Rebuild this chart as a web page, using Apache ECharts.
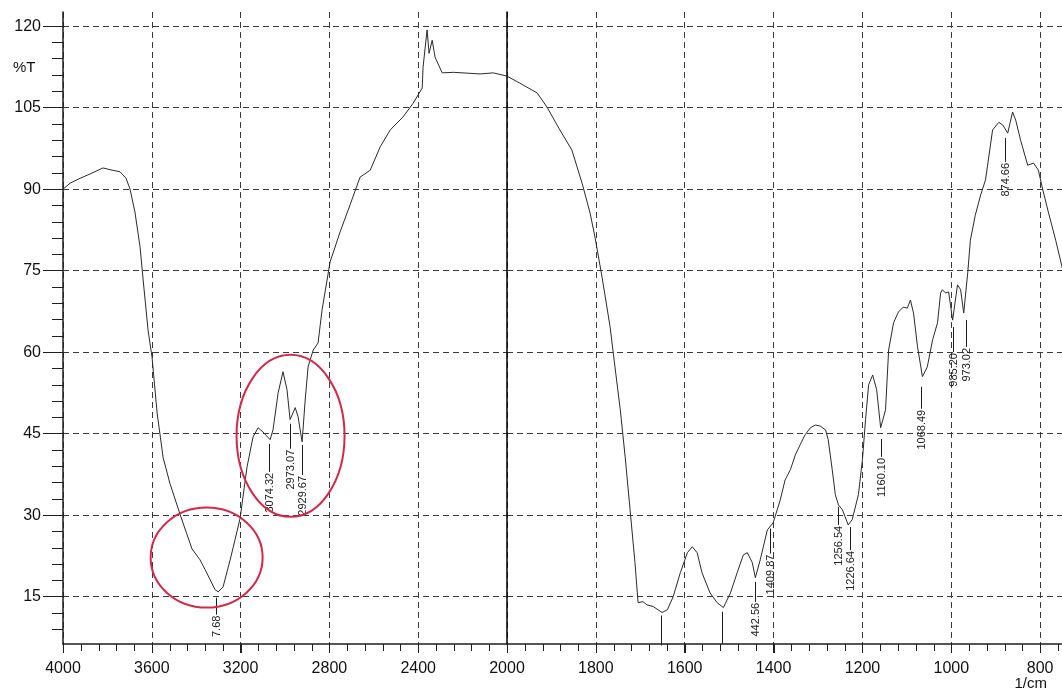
<!DOCTYPE html>
<html>
<head>
<meta charset="utf-8">
<script src="https://cdn.jsdelivr.net/npm/echarts@6/dist/echarts.min.js"></script>
<style>
	html, body { margin: 0; padding: 0; background: #fff; }
	#ir-container { width: 1062px; height: 695px; }
</style>
</head>
<body>
<div id="ir-container"></div>
<script>
// spectrum, 4000-2000 part (wavenumber, %T)
var wnLeft = [4000, 3968, 3923, 3878, 3820, 3779, 3743, 3716, 3698, 3676, 3653, 3639, 3617, 3599, 3576, 3549, 3518, 3473, 3441, 3419,
	3383, 3360, 3315, 3301, 3279, 3247, 3225, 3202, 3171, 3144, 3121, 3099, 3067, 3054, 3031, 3009, 2991, 2977, 2954, 2941,
	2923, 2909, 2896, 2873, 2851, 2833, 2797, 2752, 2707, 2662, 2616, 2571, 2526, 2468, 2423, 2382, 2378, 2360, 2351, 2337,
	2324, 2292, 2242, 2121, 2062, 2000];
var tLeft = [90.0, 91.1, 92.0, 92.8, 93.9, 93.5, 93.2, 92.0, 90.0, 85.8, 79.4, 73.3, 64.1, 59.1, 48.8, 40.6, 35.8, 30.2, 26.4, 23.8,
	21.8, 20.0, 16.3, 15.9, 16.8, 21.8, 25.5, 29.5, 38.9, 44.4, 46.1, 45.3, 43.9, 45.7, 52.5, 56.4, 53.1, 47.6, 49.8, 48.1,
	43.5, 51.2, 57.3, 60.4, 61.7, 67.8, 76.6, 82.1, 87.1, 92.2, 93.5, 97.8, 100.9, 103.3, 105.8, 108.6, 112.5, 119.3, 115.0, 117.4,
	114.3, 111.4, 111.5, 111.2, 111.4, 110.8];

// spectrum, 2000-750 part
var wnRight = [2000, 1971, 1932, 1910, 1881, 1854, 1831, 1813, 1802, 1786, 1768, 1757, 1745, 1734, 1723, 1712, 1705, 1694, 1685, 1671,
	1651, 1639, 1626, 1610, 1594, 1583, 1572, 1561, 1543, 1527, 1513, 1497, 1482, 1468, 1459, 1448, 1441, 1430, 1414, 1401,
	1385, 1374, 1362, 1351, 1340, 1329, 1317, 1306, 1295, 1283, 1277, 1268, 1261, 1254, 1245, 1232, 1223, 1209, 1200, 1193,
	1186, 1177, 1168, 1159, 1148, 1141, 1130, 1119, 1108, 1099, 1092, 1085, 1076, 1065, 1054, 1042, 1031, 1024, 1020, 1013,
	1006, 997, 986, 979, 972, 963, 957, 946, 934, 923, 907, 893, 884, 873, 862, 855, 844, 828, 815, 804,
	795, 781, 765, 749];
var tRight = [110.8, 109.5, 107.7, 105.1, 100.9, 97.2, 91.1, 85.6, 81.2, 73.8, 64.7, 57.3, 49.4, 40.7, 31.0, 21.3, 13.9, 14.1, 13.5, 13.2,
	12.1, 12.6, 15.0, 19.4, 23.1, 24.2, 23.1, 19.4, 15.7, 13.9, 13.0, 15.7, 19.4, 22.7, 23.1, 21.3, 18.5, 21.8, 27.3, 28.6,
	32.8, 36.5, 38.4, 41.1, 43.0, 44.8, 46.1, 46.6, 46.4, 45.7, 43.9, 38.4, 33.8, 31.9, 31.0, 28.2, 29.2, 33.8, 40.2, 47.6,
	54.0, 55.8, 53.1, 46.1, 49.4, 60.4, 65.4, 67.4, 68.3, 68.1, 69.6, 67.2, 61.0, 55.5, 57.3, 62.3, 65.4, 70.9, 71.5, 70.9,
	71.1, 65.9, 72.4, 71.5, 67.2, 74.6, 80.6, 85.2, 88.9, 91.7, 100.9, 102.3, 101.8, 100.3, 104.2, 102.7, 99.0, 94.4, 94.8, 93.5,
	90.2, 85.6, 80.6, 75.1];

// ticks
var xMajorLeft = [4000, 3600, 3200, 2800, 2400, 2000];
var xMajorRight = [2000, 1800, 1600, 1400, 1200, 1000, 800, 600];
var xLabelsRight = [1800, 1600, 1400, 1200, 1000, 800];
var yMajor = [15, 30, 45, 60, 75, 90, 105, 120];
var yMinor = [9, 12, 18, 21, 24, 27, 33, 36, 39, 42, 48, 51, 54, 57, 63, 66, 69, 72, 78, 81, 84, 87,
	93, 96, 99, 102, 108, 111, 114, 117];

// peak marks: label, wavenumber, %T where the mark starts
var peakLabels = ['7.68', '3074.32', '2973.07', '2929.67', '', '', '442.56', '1409.87', '1256.54', '1226.64', '1160.10', '1068.49', '985.20', '973.02', '874.66'];
var peakWn = [3310, 3072, 2977, 2923, 1653, 1516, 1441, 1408, 1255, 1229, 1159, 1069, 997, 968, 878];
var peakT = [15.2, 43.5, 47.2, 43.3, 11.9, 12.6, 18.1, 27.9, 31.9, 28.2, 44.4, 54.0, 65.0, 66.3, 99.8];
var peakGap = [17, 28, 25, 30, 30, 32, 20, 25, 18, 23, 18, 22, 25, 27, 24];

var yMin = 6.3, yMax = 122.6;
var ink = '#1e1e1e';
var font = '"Liberation Sans", Arial, sans-serif';
var gridDash = { color: '#3a3a3a', width: 1, type: [6, 4] };

function pairs(xs, ys) {
	return xs.map(function (x, i) { return [x, ys[i]]; });
}

// five minor steps between each pair of major ticks
function minorsOf(majors) {
	var out = [];
	for (var i = 0; i < majors.length - 1; i++) {
		var step = (majors[i + 1] - majors[i]) / 5;
		for (var k = 1; k < 5; k++) out.push(majors[i] + step * k);
	}
	return out;
}

function majorX(gi, lo, hi, ticks, labels) {
	return {
		gridIndex: gi, type: 'value', inverse: true, min: lo, max: hi, position: 'bottom',
		axisLine: { show: true, onZero: false, lineStyle: { color: ink, width: 1.5 } },
		axisTick: { show: true, inside: false, length: 9, customValues: ticks, lineStyle: { color: ink } },
		axisLabel: { margin: 17, fontSize: 16, color: '#111', fontFamily: font, customValues: labels, formatter: String },
		splitLine: { show: true, lineStyle: gridDash }
	};
}

var chart = echarts.init(document.getElementById('ir-container'));
var option = {
	animation: false,
	backgroundColor: '#fff',
	grid: [
		{ left: 63, top: 12, width: 444, height: 632, outerBoundsMode: 'none' },
		{ left: 507, top: 12, width: 622, height: 632, outerBoundsMode: 'none' }
	],
	xAxis: [
		majorX(0, 2000, 4000, xMajorLeft, xMajorLeft),
		majorX(1, 600, 2000, xMajorRight, xLabelsRight)
	],
	yAxis: [{
		gridIndex: 0, type: 'value', min: yMin, max: yMax, position: 'left',
		axisLine: { show: true, lineStyle: { color: ink, width: 1.5 } },
		axisTick: { show: true, length: 20, customValues: yMajor, lineStyle: { color: ink } },
		axisLabel: { margin: 22, fontSize: 16, color: '#111', fontFamily: font, customValues: yMajor },
		splitLine: { show: true, lineStyle: gridDash }
	}, {
		gridIndex: 0, type: 'value', min: yMin, max: yMax, position: 'left',
		axisLine: { show: false },
		axisTick: { show: true, length: 11, customValues: yMinor, lineStyle: { color: ink } },
		axisLabel: { show: false },
		splitLine: { show: false }
	}, {
		gridIndex: 1, type: 'value', min: yMin, max: yMax, position: 'left',
		axisLine: { show: true, lineStyle: { color: '#000', width: 1.5 } },
		axisTick: { show: false, customValues: yMajor },
		axisLabel: { show: false },
		splitLine: { show: true, lineStyle: gridDash }
	}],
	series: [{
		name: 'high',
		type: 'line',
		xAxisIndex: 0, yAxisIndex: 0,
		data: pairs(wnLeft, tLeft),
		showSymbol: false,
		lineStyle: { color: '#2a2a2a', width: 1 }
	}, {
		name: 'low',
		type: 'line',
		xAxisIndex: 1, yAxisIndex: 2,
		data: pairs(wnRight, tRight),
		showSymbol: false,
		lineStyle: { color: '#2a2a2a', width: 1 }
	}]
};
chart.setOption(option);

function toPx(wn, t) {
	return wn > 2000
		? chart.convertToPixel({ xAxisIndex: 0, yAxisIndex: 0 }, [wn, t])
		: chart.convertToPixel({ xAxisIndex: 1, yAxisIndex: 2 }, [wn, t]);
}

var gfx = [];

// x-axis ticks, hanging below the axis line; the axis y comes from the grid itself
var axisY = chart.convertToPixel({ yAxisIndex: 0 }, yMin);
if (!isFinite(axisY)) axisY = toPx(3000, 50)[1] + (50 - yMin) * (632 / (yMax - yMin));
function addTicks(values, len) {
	values.forEach(function (v) {
		var x = Math.round(toPx(v, 50)[0]) + 0.5;
		gfx.push({
			type: 'polyline', z: 100,
			shape: { points: [[x, axisY], [x, axisY + len]] },
			style: { stroke: ink, lineWidth: 1, fill: null }
		});
	});
}
addTicks(xMajorLeft.concat(xMajorRight.slice(1)), 9);
addTicks(minorsOf(xMajorLeft).concat(minorsOf(xMajorRight)), 7);

// peak marks
peakWn.forEach(function (wn, i) {
	var p = toPx(wn, peakT[i]);
	var x = Math.round(p[0]) + 0.5;
	var y0 = p[1] + 2;
	var y1 = y0 + peakGap[i];
	gfx.push({ type: 'line', shape: { x1: x, y1: y0, x2: x, y2: y1 }, style: { stroke: ink, lineWidth: 1 }, z: 20 });
	if (peakLabels[i]) {
		gfx.push({
			type: 'text', x: x, y: y1 + 1, rotation: Math.PI / 2, z: 20,
			style: { text: peakLabels[i], fontSize: 11, fontFamily: font, fill: '#222', align: 'right', verticalAlign: 'middle' }
		});
	}
});

// red rings drawn over the spectrum
var c1 = toPx(3353, 22.2);
var c2 = toPx(2975, 44.6);
gfx.push({ type: 'ellipse', shape: { cx: c1[0], cy: c1[1], rx: 56, ry: 50 }, style: { fill: 'none', stroke: '#d2294a', lineWidth: 2 }, z: 30 });
gfx.push({ type: 'ellipse', shape: { cx: c2[0], cy: c2[1], rx: 54, ry: 81 }, style: { fill: 'none', stroke: '#d2294a', lineWidth: 2 }, z: 30 });

gfx.push({ type: 'text', left: 13, top: 60, style: { text: '%T', fontSize: 15, fontFamily: font, fill: '#111' }, z: 20 });
gfx.push({ type: 'text', right: 15, top: 676, style: { text: '1/cm', fontSize: 15, fontFamily: font, fill: '#111' }, z: 20 });

chart.setOption({ graphic: gfx });
</script>
</body>
</html>
